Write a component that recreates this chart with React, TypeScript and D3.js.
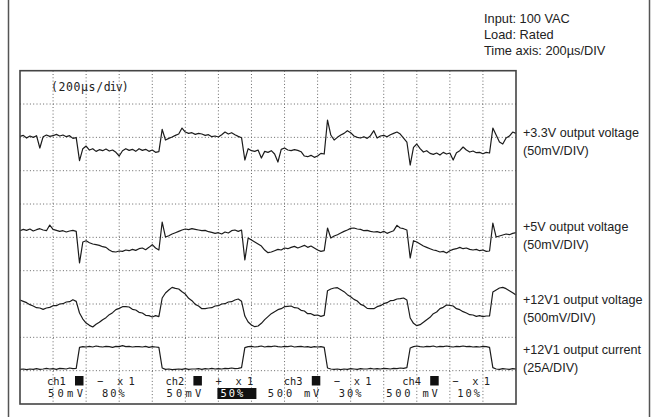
import React from "react";
import * as d3 from "d3";

// sample times, 20 µs apart across 15 divisions of 200 µs
const timeUs = d3.range(0, 3001, 20);

// screen levels in divisions (0 = bottom of graticule, 10 = top)
const v33 = [
  8.03, 8.06, 7.98, 8.04, 8.0, 8.05, 7.68, 8.02, 8.07, 8.03, 8.05, 8.09, 8.04, 8.07, 8.02, 8.05, 7.97, 7.99,
  7.3, 7.66, 7.74, 7.62, 7.66, 7.58, 7.63, 7.6, 7.65, 7.59, 7.62, 7.55, 7.44, 7.6, 7.66, 7.61, 7.64, 7.58, 7.66, 7.61, 7.64, 7.58, 7.62, 7.55, 7.57,
  8.24, 7.92, 7.97, 8.01, 8.06, 8.1, 8.28, 8.16, 8.12, 8.14, 8.09, 8.12, 8.1, 8.06, 8.08, 8.02, 8.04, 8.01, 8.08, 8.16, 8.1, 8.14, 8.08, 8.03, 7.99,
  7.32, 7.66, 7.6, 7.58, 7.62, 7.38, 7.58, 7.55, 7.6, 7.5, 7.26, 7.64, 7.68, 7.62, 7.6, 7.63, 7.61, 7.57, 7.44, 7.42, 7.46, 7.4, 7.44, 7.52, 7.5,
  8.52, 8.07, 7.92, 8.0, 8.07, 8.12, 8.2, 8.14, 8.04, 8.0, 7.98, 8.02, 7.97, 8.05, 8.2, 7.98, 8.04, 8.06, 8.02, 8.08, 8.12, 8.16, 8.1, 7.98, 7.86,
  7.17, 7.7, 7.8, 7.66, 7.56, 7.6, 7.52, 7.49, 7.53, 7.47, 7.55, 7.5, 7.53, 7.32, 7.54, 7.6, 7.71, 7.62, 7.56, 7.59, 7.54, 7.55, 7.51, 7.55, 7.53,
  8.28, 8.07, 7.86, 7.8, 7.98, 8.04, 8.16, 8.12,
];

const v5 = [
  5.2, 5.24, 5.21, 5.25, 5.19, 5.23, 5.26, 5.22, 5.2, 5.37, 5.24, 5.21, 5.18, 5.2, 5.16, 5.19, 5.21, 5.18,
  4.23, 4.86, 4.9, 4.84, 4.8, 4.78, 4.76, 4.72, 4.7, 4.62, 4.57, 4.56, 4.59, 4.58, 4.62, 4.6, 4.64, 4.61, 4.66, 4.68, 4.63, 4.7, 4.78, 4.68, 4.62,
  5.46, 5.01, 5.05, 5.1, 5.14, 5.18, 5.22, 5.25, 5.23, 5.26, 5.24, 5.22, 5.2, 5.21, 5.17, 5.15, 5.12, 5.14, 5.1, 5.16, 5.13, 5.2, 5.22, 5.18, 5.22,
  4.32, 4.98, 4.92, 4.86, 4.8, 4.74, 4.62, 4.54, 4.56, 4.6, 4.64, 4.62, 4.68, 4.66, 4.7, 4.73, 4.68, 4.72, 4.76, 4.7, 4.74, 4.68, 4.62, 4.58, 4.6,
  5.28, 4.98, 5.04, 5.08, 5.13, 5.18, 5.22, 5.27, 5.28, 5.25, 5.24, 5.2, 5.21, 5.18, 5.16, 5.17, 5.14, 5.18, 5.12, 5.16, 5.2, 5.36, 5.28, 5.26, 5.22,
  4.38, 4.9, 4.86, 4.8, 4.74, 4.7, 4.66, 4.62, 4.6, 4.56, 4.58, 4.53, 4.6, 4.64, 4.66, 4.7, 4.66, 4.68, 4.64, 4.62, 4.64, 4.6, 4.62, 4.58, 4.59,
  5.43, 5.01, 5.04, 5.07, 5.1, 5.08, 5.12, 5.14,
];

const v12 = [
  3.12, 3.08, 3.04, 2.98, 2.94, 2.89, 2.88, 2.84, 2.88, 2.9, 2.95, 2.95, 3.0, 3.01, 3.06, 3.07, 3.13, 3.08,
  2.73, 2.55, 2.43, 2.36, 2.31, 2.39, 2.45, 2.53, 2.59, 2.68, 2.74, 2.83, 2.87, 2.92, 2.92, 2.91, 2.84, 2.82, 2.75, 2.73, 2.66, 2.65, 2.61, 2.65, 2.62,
  3.18, 3.33, 3.42, 3.5, 3.47, 3.45, 3.37, 3.3, 3.17, 3.1, 2.99, 2.94, 2.86, 2.86, 2.88, 2.89, 2.94, 2.95, 3.0, 3.01, 3.06, 3.07, 3.12, 3.15, 3.08,
  2.64, 2.46, 2.37, 2.32, 2.34, 2.42, 2.53, 2.62, 2.71, 2.77, 2.83, 2.86, 2.92, 2.93, 2.94, 2.89, 2.88, 2.81, 2.79, 2.71, 2.71, 2.66, 2.67, 2.63, 2.66,
  3.4, 3.45, 3.48, 3.49, 3.43, 3.37, 3.28, 3.22, 3.14, 3.09, 2.99, 2.95, 2.87, 2.86, 2.86, 2.92, 2.95, 3.01, 3.04, 3.1, 3.11, 3.15, 3.16, 3.18, 3.12,
  2.58, 2.42, 2.35, 2.38, 2.45, 2.53, 2.6, 2.71, 2.76, 2.86, 2.9, 2.97, 2.96, 2.94, 2.86, 2.83, 2.77, 2.73, 2.68, 2.67, 2.63, 2.65, 2.62, 2.64, 2.64,
  3.36, 3.42, 3.48, 3.5, 3.46, 3.4, 3.34, 3.27,
];

const i12 = [
  1.04, 1.05, 1.03, 1.05, 1.04, 1.06, 1.04, 1.05, 1.07, 1.05, 1.06, 1.04, 1.07, 1.06, 1.05, 1.08, 1.06, 1.07,
  1.7, 1.72, 1.71, 1.73, 1.71, 1.74, 1.72, 1.71, 1.73, 1.72, 1.7, 1.73, 1.72, 1.75, 1.72, 1.73, 1.71, 1.72, 1.72, 1.71, 1.73, 1.7, 1.72, 1.71, 1.7,
  1.08, 1.04, 1.05, 1.03, 1.04, 1.05, 1.04, 1.06, 1.04, 1.05, 1.05, 1.06, 1.04, 1.06, 1.05, 1.07, 1.05, 1.06, 1.05, 1.07, 1.06, 1.08, 1.06, 1.07, 1.09,
  1.69, 1.72, 1.73, 1.71, 1.72, 1.74, 1.71, 1.73, 1.72, 1.74, 1.72, 1.71, 1.73, 1.72, 1.74, 1.71, 1.72, 1.73, 1.71, 1.72, 1.7, 1.72, 1.71, 1.72, 1.7,
  1.08, 1.05, 1.04, 1.05, 1.03, 1.05, 1.04, 1.06, 1.05, 1.04, 1.06, 1.05, 1.05, 1.07, 1.05, 1.06, 1.05, 1.07, 1.06, 1.05, 1.07, 1.06, 1.08, 1.07, 1.09,
  1.68, 1.72, 1.74, 1.72, 1.71, 1.73, 1.72, 1.74, 1.71, 1.73, 1.72, 1.74, 1.72, 1.71, 1.73, 1.72, 1.74, 1.72, 1.73, 1.71, 1.72, 1.71, 1.73, 1.72, 1.7,
  1.09, 1.05, 1.04, 1.06, 1.05, 1.04, 1.06, 1.05,
];

const traces = [v33, v5, v12, i12];

const traceNames = ["+3.3V output voltage", "+5V output voltage", "+12V1 output voltage", "+12V1 output current"];
const traceScales = ["(50mV/DIV)", "(50mV/DIV)", "(500mV/DIV)", "(25A/DIV)"];
const infoLines = ["Input: 100 VAC", "Load: Rated", "Time axis: 200µs/DIV"];

const chNames = ["ch1", "ch2", "ch3", "ch4"];
const chSigns = ["\u2212", "+", "\u2212", "\u2212"];
const chProbe = ["x 1", "x 1", "x 1", "x 1"];
const chVolts = ["50mV", "50mV", "500 mV", "500 mV"];
const chPos = ["80%", "50%", "30%", "10%"];
const chActive = 1;

const timeTicks = d3.range(200, 3000, 200);
const divTicks = d3.range(1, 10);

const W = 653;
const H = 417;
const X0 = 20;
const X1 = 516;
const Y0 = 70.7;
const Y1 = 404;

const sans = "'Liberation Sans', Arial, sans-serif";
const mono = "'DejaVu Sans Mono', monospace";

export default function App() {
  const x = d3.scaleLinear().domain([0, 3000]).range([X0, X1]);
  const y = d3.scaleLinear().domain([0, 10]).range([Y1, Y0]);
  const line = d3
    .line<number>()
    .x((_, i) => x(timeUs[i]))
    .y((d) => y(d));

  // right-hand label baselines, next to each trace
  const labelY = [137, 231, 304, 354];

  return (
    <>
      <style>{"body{margin:0}"}</style>
      <svg width={W} height={H} style={{ display: "block", background: "#fff" }}>
        {/* outer frame sides */}
        <line x1={8.5} x2={8.5} y1={0} y2={H} stroke="#555" strokeWidth={1.5} />
        <line x1={649.5} x2={649.5} y1={0} y2={H} stroke="#555" strokeWidth={1.5} />

        {infoLines.map((t, i) => (
          <text key={t} x={484} y={22.5 + i * 16.2} fontFamily={sans} fontSize={12.8} fill="#222">
            {t}
          </text>
        ))}

        {/* graticule */}
        <g stroke="#666" strokeWidth={1} strokeDasharray="1,2.3">
          {timeTicks.map((t) => (
            <line key={"v" + t} x1={x(t)} x2={x(t)} y1={Y0} y2={Y1} />
          ))}
          {divTicks.map((d) => (
            <line key={"h" + d} x1={X0} x2={X1} y1={y(d)} y2={y(d)} />
          ))}
        </g>

        {traces.map((tr, i) => (
          <path key={i} d={line(tr) || ""} fill="none" stroke="#1c1c1c" strokeWidth={1.2} strokeLinejoin="round" />
        ))}

        <rect x={X0} y={Y0} width={X1 - X0} height={Y1 - Y0} fill="none" stroke="#444" strokeWidth={1.6} />

        {/* time base readout */}
        <text x={51} y={91} fontFamily={mono} fontSize={11.5} fill="#222">
          <tspan letterSpacing={0.6}>(200µs/</tspan>
          <tspan letterSpacing={-0.9}>div)</tspan>
        </text>

        {/* channel settings */}
        {chNames.map((c, i) => {
          const bx = X0 + 27 + i * 118.4;
          const wide = chVolts[i].length > 4;
          return (
            <g key={c} fontFamily={mono} fontSize={10.4} fill="#222">
              <text x={bx} y={384.5}>{c}</text>
              <rect x={bx + 28} y={376} width={8.5} height={9.5} fill="#111" />
              <text x={bx + 50} y={384.5}>{chSigns[i]}</text>
              <text x={bx + 70} y={384.5} letterSpacing={-0.5}>{chProbe[i]}</text>
              <text x={wide ? bx - 16 : bx + 1} y={397.2} letterSpacing={wide ? 2.8 : 3.3}>
                {chVolts[i]}
              </text>
              {i === chActive && <rect x={bx + 52} y={388} width={39} height={11} fill="#111" />}
              <text x={bx + 55} y={397.2} letterSpacing={2.0} fill={i === chActive ? "#fff" : "#222"}>
                {chPos[i]}
              </text>
            </g>
          );
        })}

        {traceNames.map((n, i) => (
          <g key={n} fontFamily={sans} fontSize={12.6} fill="#222">
            <text x={523} y={labelY[i]}>{n}</text>
            <text x={523} y={labelY[i] + 17.5}>{traceScales[i]}</text>
          </g>
        ))}
      </svg>
    </>
  );
}
